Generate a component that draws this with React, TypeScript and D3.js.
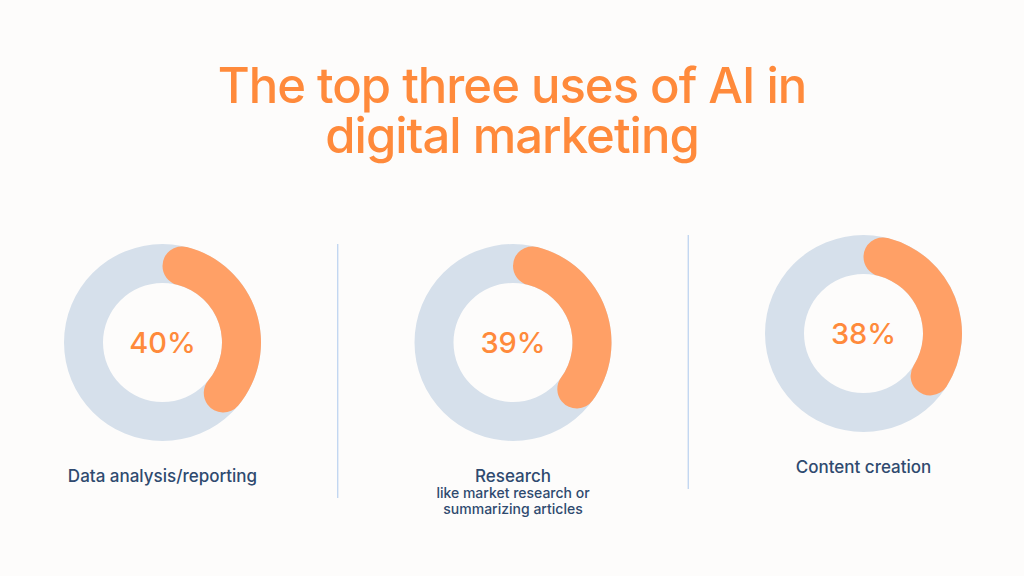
import { useMemo } from "react";
import * as d3 from "d3";

const title = ["The top three uses of AI in", "digital marketing"];
const categories = ["Data analysis/reporting", "Research", "Content creation"];
const notes: string[][] = [[], ["like market research or", "summarizing articles"], []];
const shares = [40, 39, 38];

const W = 1024;
const H = 576;
const ORANGE = "#ff8a3b";
const ARC = "#ffa066";
const TRACK = "#d6e0eb";
const NAVY = "#2f4a6f";
const FONT = "Inter, 'Noto Sans', sans-serif";

// the third panel sits a little higher than the other two
const lift = [0, 0, -9];

export default function App() {
  const x = useMemo(() => d3.scalePoint<string>().domain(categories).range([162.5, 863.5]), []);
  const angle = d3.scaleLinear().domain([0, 100]).range([0, 2 * Math.PI]);

  const inner = 59.5;
  const outer = 98.5;
  const track = d3.arc<any>().innerRadius(inner).outerRadius(outer).startAngle(0).endAngle(2 * Math.PI);
  const arc = d3
    .arc<any>()
    .innerRadius(inner)
    .outerRadius(outer)
    .cornerRadius((outer - inner) / 2);

  const cy = 342.5;
  const pos = categories.map((c) => x(c) as number);
  const dividers = pos.slice(0, -1).map((p, i) => ({ x: (p + pos[i + 1]) / 2, dy: lift[i + 1] }));

  return (
    <div style={{ position: "fixed", left: 0, top: 0, width: W, height: H, background: "#fdfcfb" }}>
      <svg width={W} height={H} style={{ display: "block" }}>
        <rect width={W} height={H} fill="#fdfcfb" />
        {title.map((t, i) => (
          <text
            key={t}
            x={W / 2}
            y={103 + i * 50}
            textAnchor="middle"
            fill={ORANGE}
            fontFamily={FONT}
            fontWeight={500}
            fontSize={49}
            letterSpacing="-1"
          >
            {t}
          </text>
        ))}

        {dividers.map((d, i) => (
          <line key={i} x1={d.x} x2={d.x} y1={244 + d.dy} y2={498 + d.dy} stroke="#b9d0ef" strokeWidth={1.2} />
        ))}

        {categories.map((c, i) => (
          <g key={c} transform={`translate(${pos[i]},${cy + lift[i]})`}>
            <path d={track({}) as string} fill={TRACK} />
            <path d={arc({ startAngle: 0, endAngle: angle(shares[i]) }) as string} fill={ARC} />
            <text
              y={10}
              textAnchor="middle"
              fill={ORANGE}
              fontFamily={FONT}
              fontWeight={500}
              fontSize={29}
            >
              {shares[i]}%
            </text>
            <text
              y={139}
              textAnchor="middle"
              fill={NAVY}
              fontFamily={FONT}
              fontWeight={500}
              fontSize={17}
            >
              {c}
            </text>
            {notes[i].map((n, j) => (
              <text
                key={n}
                y={155 + j * 16}
                textAnchor="middle"
                fill={NAVY}
                fontFamily={FONT}
                fontWeight={500}
                fontSize={14}
              >
                {n}
              </text>
            ))}
          </g>
        ))}
      </svg>
    </div>
  );
}
